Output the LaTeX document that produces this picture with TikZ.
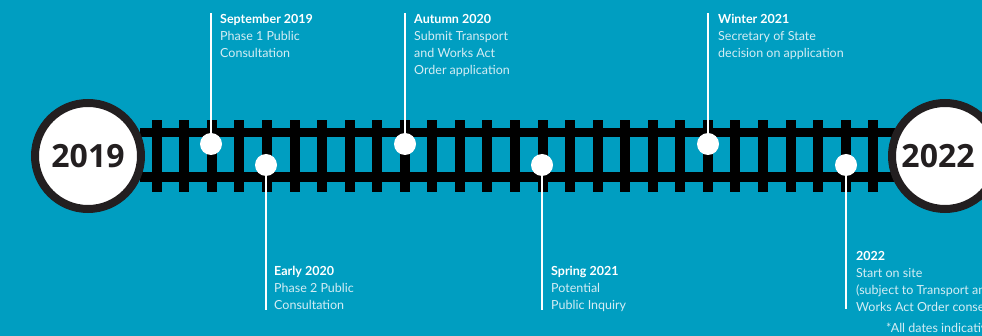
\documentclass[tikz,border=0pt]{standalone}
\usepackage{fontspec}
\setmainfont{Lato}
\newfontfamily\yearfont{Open Sans}
\definecolor{bg}{HTML}{009EC1}
\definecolor{ink}{HTML}{231F20}
\definecolor{soft}{HTML}{D5EDF4}
\newcommand\hd[1]{\textcolor{white}{\bfseries #1}}
\newcommand\lns[1]{\vtop{\halign{##\hfil\cr#1\crcr}}}
\begin{document}
\begin{tikzpicture}[x=1pt,y=-1pt,
  tie/.style={fill=black},
  rail/.style={fill=black},
  yearcircle/.style={circle, draw=ink, line width=8pt, fill=white, minimum size=106pt, inner sep=0pt, text=ink, font=\yearfont\bfseries\fontsize{32}{36}\selectfont},
  dot/.style={circle, fill=white, minimum size=22pt, inner sep=0pt},
  stem/.style={draw=white, line width=2pt},
  lab/.style={anchor=base west, inner sep=0pt, text=soft, font=\fontsize{12.5}{16.7}\selectfont}]
\useasboundingbox (0,0) rectangle (982,336);
\fill[bg] (0,0) rectangle (982,336);
\clip (0,0) rectangle (982,336);
% track
\foreach \i in {0,...,26} \fill[tie] ({151.7+\i*27.56},120) rectangle ++(10,72);
\fill[rail] (140,128) rectangle (900,137);
\fill[rail] (140,172) rectangle (900,182);
% year circles
\node[yearcircle] (y2019) at (88,156) {2019};
\node[yearcircle] (y2022) at (945,156) {\hspace*{-14pt}2022};
% dots
\node[dot] (d1) at (211,144) {};
\node[dot] (d2) at (266,165) {};
\node[dot] (d3) at (405,144) {};
\node[dot] (d4) at (542,165) {};
\node[dot] (d5) at (708,144) {};
\node[dot] (d6) at (846,165) {};
% stem ends
\coordinate (e1) at (211,13);
\coordinate (e2) at (266,310);
\coordinate (e3) at (405,13);
\coordinate (e4) at (542,310);
\coordinate (e5) at (708,13);
\coordinate (e6) at (846,309);
\foreach \a/\b in {d1/e1,d2/e2,d3/e3,d4/e4,d5/e5,d6/e6} \draw[stem] (\a) -- (\b);
% labels
\node[lab] (l1) at (220,24) {\lns{\hd{September 2019}\cr Phase 1 Public\cr Consultation}};
\node[lab] (l3) at (414,24) {\lns{\hd{Autumn 2020}\cr Submit Transport\cr and Works Act\cr Order application}};
\node[lab] (l5) at (718,24) {\lns{\hd{Winter 2021}\cr Secretary of State\cr decision on application}};
\node[lab] (l2) at (274,276) {\lns{\hd{Early 2020}\cr Phase 2 Public\cr Consultation}};
\node[lab] (l4) at (551,276) {\lns{\hd{Spring 2021}\cr Potential\cr Public Inquiry}};
\node[lab] (l6) at (856,261) {\lns{\hd{2022}\cr Start on site\cr (subject to Transport and\cr Works Act Order consent)}};
\node[lab] (note) at (886,333) {*All dates indicative};
\end{tikzpicture}
\end{document}
